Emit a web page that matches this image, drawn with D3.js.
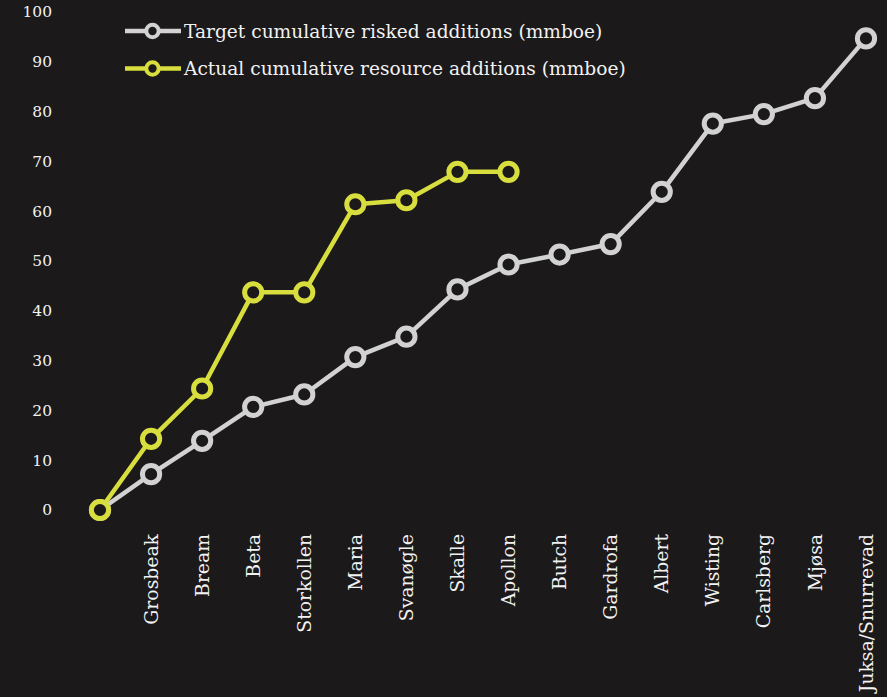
<!DOCTYPE html>
<html>
<head>
<meta charset="utf-8">
<script src="https://cdn.jsdelivr.net/npm/d3@7"></script>
<style>
  html, body { margin: 0; padding: 0; background: #1b191a; }
  svg { display: block; }
  text { font-family: "DejaVu Serif", "Liberation Serif", serif; fill: #f2f2f2; }
</style>
</head>
<body>
<svg id="chart" width="887" height="697"></svg>
<script>
// Prospects in drilling order (first point is the starting origin)
const categories = ["", "Grosbeak", "Bream", "Beta", "Storkollen", "Maria", "Svanøgle", "Skalle",
  "Apollon", "Butch", "Gardrofa", "Albert", "Wisting", "Carlsberg", "Mjøsa", "Juksa/Snurrevad"];

// Target cumulative risked additions (mmboe)
const targetValues = [0, 7.2, 13.9, 20.7, 23.2, 30.7, 34.8, 44.3, 49.3, 51.3, 53.4, 63.9, 77.6, 79.5, 82.7, 94.7];

// Actual cumulative resource additions (mmboe), reported so far
const actualValues = [0, 14.3, 24.4, 43.7, 43.7, 61.4, 62.2, 67.9, 67.9];

const yTicks = [0, 10, 20, 30, 40, 50, 60, 70, 80, 90, 100];

const seriesNames = ["Target cumulative risked additions (mmboe)", "Actual cumulative resource additions (mmboe)"];
const seriesColors = ["#d2d2d2", "#d8de3e"];

const svg = d3.select("#chart");

const x = d3.scalePoint().domain(categories.map((c, i) => i)).range([100, 866]);
const y = d3.scaleLinear().domain([0, 100]).range([510, 12]);

// Y axis labels (no axis line or ticks)
svg.append("g").selectAll("text").data(yTicks).join("text")
  .attr("x", 52).attr("y", d => y(d))
  .attr("dy", "0.35em")
  .attr("text-anchor", "end")
  .style("font-size", "15.5px")
  .text(d => d);

// X axis labels, rotated to read bottom-to-top
svg.append("g").selectAll("text").data(categories).join("text")
  .attr("transform", (d, i) => `translate(${x(i)},534) rotate(-90)`)
  .attr("dy", "0.35em")
  .attr("text-anchor", "end")
  .style("font-size", "18.8px")
  .text(d => d);

const line = d3.line().x((d, i) => x(i)).y(d => y(d));

const series = [targetValues, actualValues];
series.forEach((vals, s) => {
  const g = svg.append("g");
  g.append("path").datum(vals)
    .attr("d", line)
    .attr("fill", "none")
    .attr("stroke", seriesColors[s])
    .attr("stroke-width", 4.5)
    .attr("stroke-linejoin", "round");
  g.selectAll("circle").data(vals).join("circle")
    .attr("cx", (d, i) => x(i)).attr("cy", d => y(d))
    .attr("r", 8.6)
    .attr("fill", "#1b191a")
    .attr("stroke", seriesColors[s])
    .attr("stroke-width", 5);
});

// Legend
const legend = svg.append("g");
seriesNames.forEach((name, s) => {
  const ly = 31 + s * 37.5;
  legend.append("line")
    .attr("x1", 125).attr("x2", 181).attr("y1", ly).attr("y2", ly)
    .attr("stroke", seriesColors[s]).attr("stroke-width", 4.5);
  legend.append("circle")
    .attr("cx", 152.5).attr("cy", ly).attr("r", 6.2)
    .attr("fill", "#1b191a")
    .attr("stroke", seriesColors[s]).attr("stroke-width", 4);
  legend.append("text")
    .attr("x", 184).attr("y", ly).attr("dy", "0.35em")
    .style("font-size", "18.6px")
    .text(name);
});
</script>
</body>
</html>
